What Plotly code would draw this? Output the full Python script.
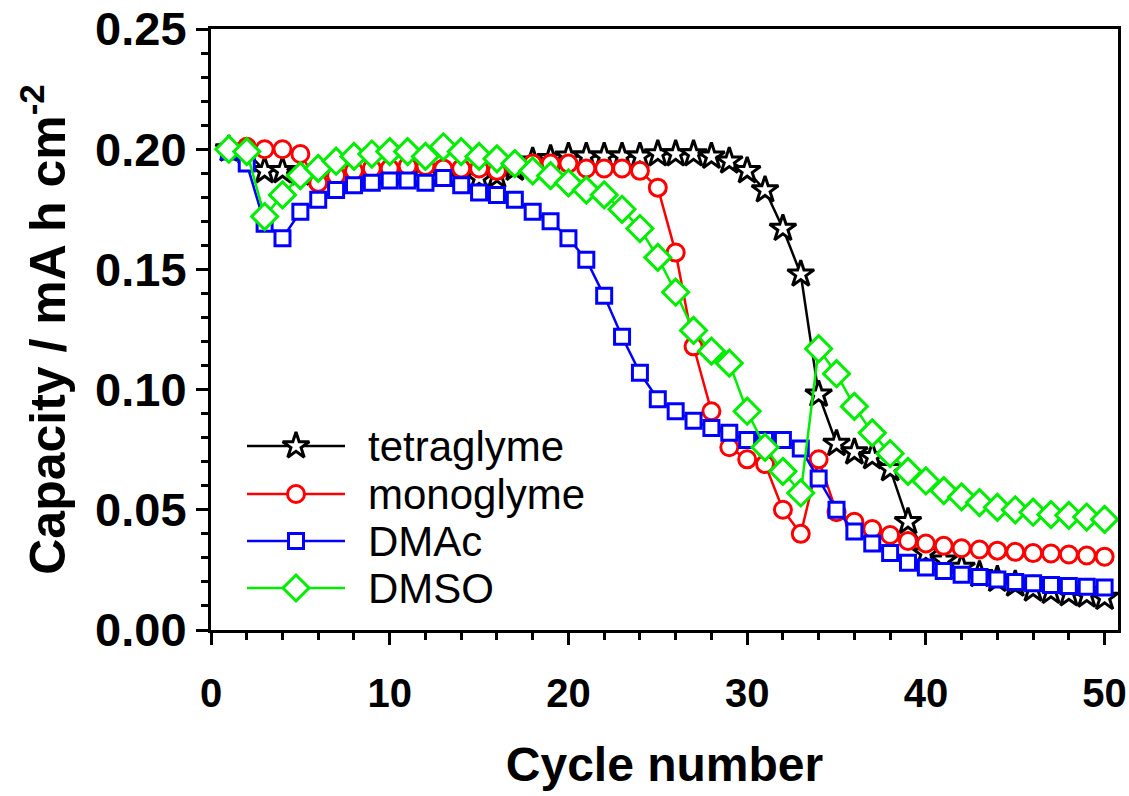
import plotly.graph_objects as go

cycles = list(range(1, 51))

tetraglyme = [0.200, 0.199, 0.191, 0.191, 0.190, 0.189, 0.189, 0.189, 0.190, 0.190,
              0.190, 0.189, 0.190, 0.189, 0.188, 0.189, 0.192, 0.195, 0.196, 0.197,
              0.197, 0.197, 0.197, 0.197, 0.198, 0.198, 0.198, 0.197, 0.195, 0.191,
              0.183, 0.167, 0.148, 0.098, 0.0775, 0.074, 0.072, 0.067, 0.045, 0.032,
              0.029, 0.026, 0.023, 0.021, 0.019, 0.017, 0.016, 0.015, 0.0145, 0.0135]

monoglyme = [0.200, 0.201, 0.200, 0.200, 0.198, 0.186, 0.189, 0.191, 0.192, 0.192,
             0.193, 0.193, 0.192, 0.192, 0.192, 0.191, 0.193, 0.194, 0.194, 0.194,
             0.192, 0.192, 0.192, 0.191, 0.184, 0.157, 0.118, 0.091, 0.076, 0.071,
             0.069, 0.050, 0.040, 0.071, 0.049, 0.045, 0.042, 0.0395, 0.037, 0.036,
             0.035, 0.034, 0.0335, 0.033, 0.0325, 0.032, 0.0318, 0.0314, 0.031, 0.0305]

dmac = [0.199, 0.194, 0.169, 0.163, 0.174, 0.179, 0.183, 0.185, 0.186, 0.187,
        0.187, 0.186, 0.188, 0.185, 0.182, 0.181, 0.179, 0.174, 0.170, 0.163,
        0.154, 0.139, 0.122, 0.107, 0.096, 0.091, 0.087, 0.084, 0.082, 0.079,
        0.079, 0.079, 0.0755, 0.063, 0.050, 0.041, 0.036, 0.032, 0.028, 0.026,
        0.0245, 0.023, 0.022, 0.021, 0.020, 0.0194, 0.0187, 0.0183, 0.018, 0.0177]

dmso = [0.200, 0.199, 0.172, 0.181, 0.189, 0.192, 0.195, 0.197, 0.198, 0.199,
        0.199, 0.197, 0.201, 0.199, 0.197, 0.196, 0.194, 0.191, 0.189, 0.186,
        0.183, 0.181, 0.175, 0.167, 0.155, 0.1405, 0.1246, 0.116, 0.111, 0.091,
        0.076, 0.066, 0.057, 0.117, 0.1066, 0.093, 0.082, 0.0734, 0.066, 0.062,
        0.058, 0.0554, 0.053, 0.051, 0.050, 0.049, 0.048, 0.0477, 0.047, 0.046]

names = ["tetraglyme", "monoglyme", "DMAc", "DMSO"]
series = [tetraglyme, monoglyme, dmac, dmso]
colors = ["#000000", "#ff0000", "#0000ff", "#00ee00"]
symbols = ["star", "circle", "square", "diamond"]
sizes = [20, 17, 15, 20]

FONT = "Liberation Sans, Arial, sans-serif"

fig = go.Figure()
for name, ys, c, sym, sz in zip(names, series, colors, symbols, sizes):
    fig.add_trace(go.Scatter(
        x=cycles, y=ys, mode="lines+markers", name=name, showlegend=False,
        line=dict(color=c, width=2.5),
        marker=dict(symbol=sym, size=sz, color="white", line=dict(color=c, width=3)),
    ))

# manual legend on an overlay axis measured in pixels
leg_x0, leg_x1, leg_xm, leg_tx = 247, 345, 296, 366
leg_rows = [446, 494, 541, 588]
for name, c, sym, sz, ry in zip(names, colors, symbols, sizes, leg_rows):
    fig.add_trace(go.Scatter(x=[leg_x0, leg_x1], y=[ry, ry], mode="lines",
                             line=dict(color=c, width=2.5), xaxis="x2", yaxis="y2",
                             showlegend=False, hoverinfo="skip"))
    fig.add_trace(go.Scatter(x=[leg_xm], y=[ry], mode="markers",
                             marker=dict(symbol=sym, size=sz, color="white",
                                         line=dict(color=c, width=3)),
                             xaxis="x2", yaxis="y2", showlegend=False, hoverinfo="skip"))
    fig.add_annotation(x=leg_tx, y=ry, xref="x2", yref="y2", text=name,
                       showarrow=False, xanchor="left", yanchor="middle",
                       font=dict(family=FONT, size=42, color="black"))

fig.update_layout(
    width=1129, height=796,
    margin=dict(l=211, r=11, t=29, b=166),
    paper_bgcolor="white", plot_bgcolor="white",
    xaxis=dict(
        range=[0, 50.75], dtick=10, tick0=0, automargin=False,
        showline=True, linewidth=3, linecolor="black", mirror=True,
        ticks="outside", ticklen=12, tickwidth=3, tickcolor="black",
        minor=dict(dtick=2, ticks="outside", ticklen=7, tickwidth=2.5, tickcolor="black"),
        showgrid=False, zeroline=False,
        tickfont=dict(family=FONT, size=40, color="black", weight="bold"),
        ticklabelstandoff=14,
        title=dict(text="Cycle number", standoff=34,
                   font=dict(family=FONT, size=48, color="black", weight="bold")),
    ),
    yaxis=dict(
        range=[0, 0.25], dtick=0.05, tick0=0, tickformat=".2f", automargin=False,
        showline=True, linewidth=3, linecolor="black", mirror=True,
        ticks="outside", ticklen=12, tickwidth=3, tickcolor="black",
        minor=dict(dtick=0.01, ticks="outside", ticklen=7, tickwidth=2.5, tickcolor="black"),
        showgrid=False, zeroline=False,
        tickfont=dict(family=FONT, size=47, color="black", weight="bold"),
        title=dict(text="Capacity / mA h cm<sup>-2</sup>", standoff=14,
                   font=dict(family=FONT, size=50, color="black", weight="bold")),
    ),
    xaxis2=dict(overlaying="x", range=[211, 1118], visible=False, fixedrange=True),
    yaxis2=dict(overlaying="y", range=[630, 29], visible=False, fixedrange=True),
)

fig.write_html("out.html")
